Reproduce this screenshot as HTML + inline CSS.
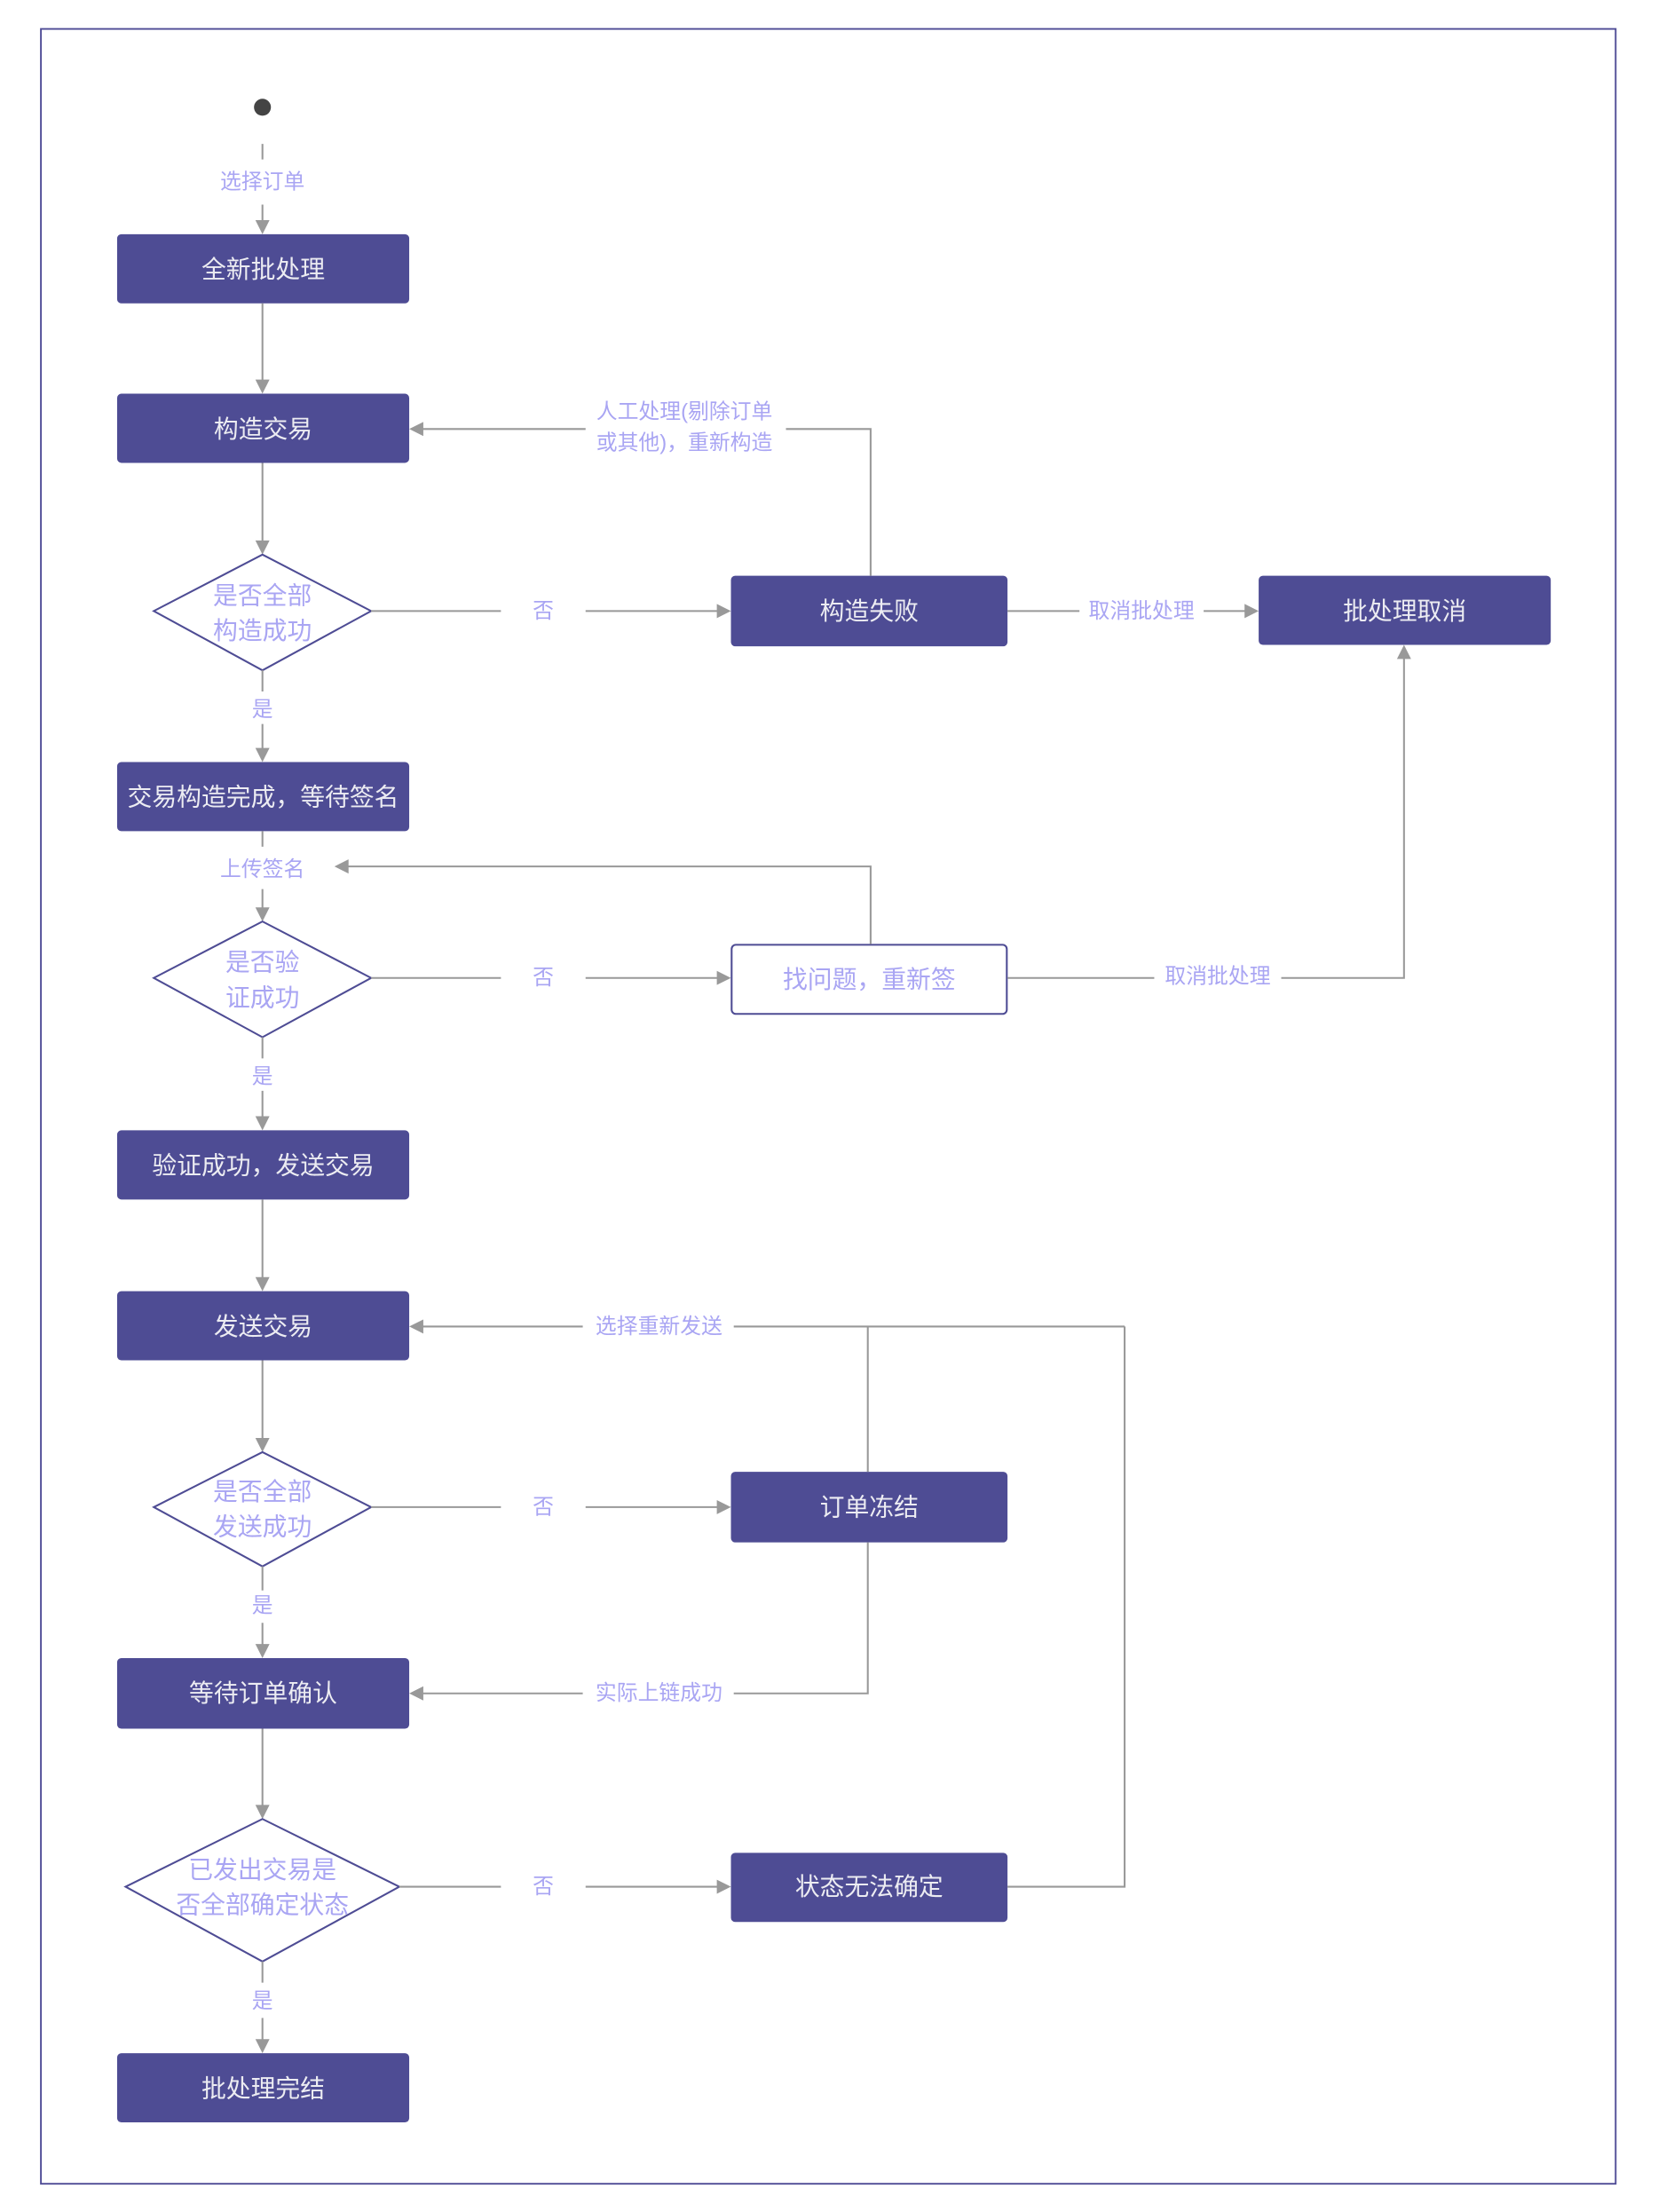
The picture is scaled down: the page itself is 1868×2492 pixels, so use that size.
<!DOCTYPE html>
<html><head><meta charset="utf-8"><style>
html,body{margin:0;padding:0;background:#fff;}
svg{display:block;}
text{font-family:"Liberation Sans","Noto Sans CJK SC",sans-serif;}
.b{fill:#4e4c94;}
.bt{fill:#ececf2;font-size:17.5px;text-anchor:middle;dominant-baseline:central;}
.lt{fill:#a9a5f3;font-size:15px;text-anchor:middle;dominant-baseline:central;}
.dt{fill:#a9a5f3;font-size:17.5px;text-anchor:middle;dominant-baseline:central;}
.l{stroke:#999;stroke-width:1.3;fill:none;}
.d{fill:#fff;stroke:#4e4c94;stroke-width:1.3;}
.a{fill:#999;}
</style></head><body>
<svg width="1868" height="2492" viewBox="0 0 1175 1567.5" preserveAspectRatio="none" xmlns="http://www.w3.org/2000/svg">
<rect x="29" y="20.5" width="1116" height="1527" fill="#fff" stroke="#4f4c96" stroke-width="1.2"/>
<circle cx="186" cy="76" r="6" fill="#444"/>
<path class="l" d="M186 102V113M186 145V158"/>
<text class="lt" x="186" y="129">选择订单</text>
<polygon class="a" points="181,156 191,156 186,166"/>
<rect class="b" x="83" y="166" width="207" height="49" rx="3"/><text class="bt" x="186.5" y="191">全新批处理</text>
<path class="l" d="M186 215V271"/><polygon class="a" points="181,269 191,269 186,279"/>
<rect class="b" x="83" y="279" width="207" height="49" rx="3"/><text class="bt" x="186.5" y="304">构造交易</text>
<path class="l" d="M186 328V385"/><polygon class="a" points="181,383 191,383 186,393"/>
<polygon class="d" points="186,393 263,433 186,475 109,433"/>
<text class="dt" x="186" y="422">是否全部</text><text class="dt" x="186" y="447">构造成功</text>
<path class="l" d="M263 433H355M415 433H510"/><text class="lt" x="385" y="433">否</text>
<polygon class="a" points="508,428 518,433 508,438"/>
<rect class="b" x="518" y="408" width="196" height="50" rx="3"/><text class="bt" x="616" y="433">构造失败</text>
<path class="l" d="M617 408V304H557M415 304H298"/>
<text class="lt" x="485" y="292">人工处理(剔除订单</text><text class="lt" x="485" y="314">或其他)，重新构造</text>
<polygon class="a" points="300,299 290,304 300,309"/>
<path class="l" d="M714 433H765M853 433H884"/><text class="lt" x="809" y="433">取消批处理</text>
<polygon class="a" points="882,428 892,433 882,438"/>
<rect class="b" x="892" y="408" width="207" height="49" rx="3"/><text class="bt" x="995.5" y="433">批处理取消</text>
<path class="l" d="M186 475V490M186 513V532"/><text class="lt" x="186" y="503">是</text>
<polygon class="a" points="181,530 191,530 186,540"/>
<rect class="b" x="83" y="540" width="207" height="49" rx="3"/><text class="bt" x="186.5" y="565">交易构造完成，等待签名</text>
<path class="l" d="M186 589V600M186 630V645"/><text class="lt" x="186" y="616">上传签名</text>
<polygon class="a" points="181,643 191,643 186,653"/>
<polygon class="d" points="186,653 263,693 186,735 109,693"/>
<text class="dt" x="186" y="682">是否验</text><text class="dt" x="186" y="707">证成功</text>
<path class="l" d="M263 693H355M415 693H510"/><text class="lt" x="385" y="693">否</text>
<polygon class="a" points="508,688 518,693 508,698"/>
<rect x="518.5" y="669.5" width="195" height="49" rx="3" fill="#fff" stroke="#4e4c94" stroke-width="1.3"/>
<text class="dt" x="616" y="694">找问题，重新签</text>
<path class="l" d="M617 669V614H245"/><polygon class="a" points="247,609 237,614 247,619"/>
<path class="l" d="M714 693H818M908 693H995V466"/><text class="lt" x="863" y="692">取消批处理</text>
<polygon class="a" points="990,467 1000,467 995,457"/>
<path class="l" d="M186 735V750M186 773V793"/><text class="lt" x="186" y="763">是</text>
<polygon class="a" points="181,791 191,791 186,801"/>
<rect class="b" x="83" y="801" width="207" height="49" rx="3"/><text class="bt" x="186.5" y="826">验证成功，发送交易</text>
<path class="l" d="M186 850V907"/><polygon class="a" points="181,905 191,905 186,915"/>
<rect class="b" x="83" y="915" width="207" height="49" rx="3"/><text class="bt" x="186.5" y="940">发送交易</text>
<path class="l" d="M186 964V1021"/><polygon class="a" points="181,1019 191,1019 186,1029"/>
<polygon class="d" points="186,1029 263,1068 186,1110 109,1068"/>
<text class="dt" x="186" y="1057">是否全部</text><text class="dt" x="186" y="1082">发送成功</text>
<path class="l" d="M263 1068H355M415 1068H510"/><text class="lt" x="385" y="1068">否</text>
<polygon class="a" points="508,1063 518,1068 508,1073"/>
<rect class="b" x="518" y="1043" width="196" height="50" rx="3"/><text class="bt" x="616" y="1068">订单冻结</text>
<path class="l" d="M615 1043V940H520M413 940H298M797 940H615M615 1093V1200H520M413 1200H298"/>
<text class="lt" x="467" y="940">选择重新发送</text><text class="lt" x="467" y="1200">实际上链成功</text>
<polygon class="a" points="300,935 290,940 300,945"/><polygon class="a" points="300,1195 290,1200 300,1205"/>
<path class="l" d="M186 1110V1127M186 1150V1167"/><text class="lt" x="186" y="1138">是</text>
<polygon class="a" points="181,1165 191,1165 186,1175"/>
<rect class="b" x="83" y="1175" width="207" height="50" rx="3"/><text class="bt" x="186.5" y="1200">等待订单确认</text>
<path class="l" d="M186 1225V1281"/><polygon class="a" points="181,1279 191,1279 186,1289"/>
<polygon class="d" points="186,1289 283,1337 186,1390 89,1337"/>
<text class="dt" x="186" y="1325">已发出交易是</text><text class="dt" x="186" y="1350">否全部确定状态</text>
<path class="l" d="M283 1337H355M415 1337H510"/><text class="lt" x="385" y="1337">否</text>
<polygon class="a" points="508,1332 518,1337 508,1342"/>
<rect class="b" x="518" y="1313" width="196" height="49" rx="3"/><text class="bt" x="616" y="1337">状态无法确定</text>
<path class="l" d="M714 1337H797V940"/>
<path class="l" d="M186 1390V1405M186 1430V1447"/><text class="lt" x="186" y="1418">是</text>
<polygon class="a" points="181,1445 191,1445 186,1455"/>
<rect class="b" x="83" y="1455" width="207" height="49" rx="3"/><text class="bt" x="186.5" y="1480">批处理完结</text>
</svg>
</body></html>
